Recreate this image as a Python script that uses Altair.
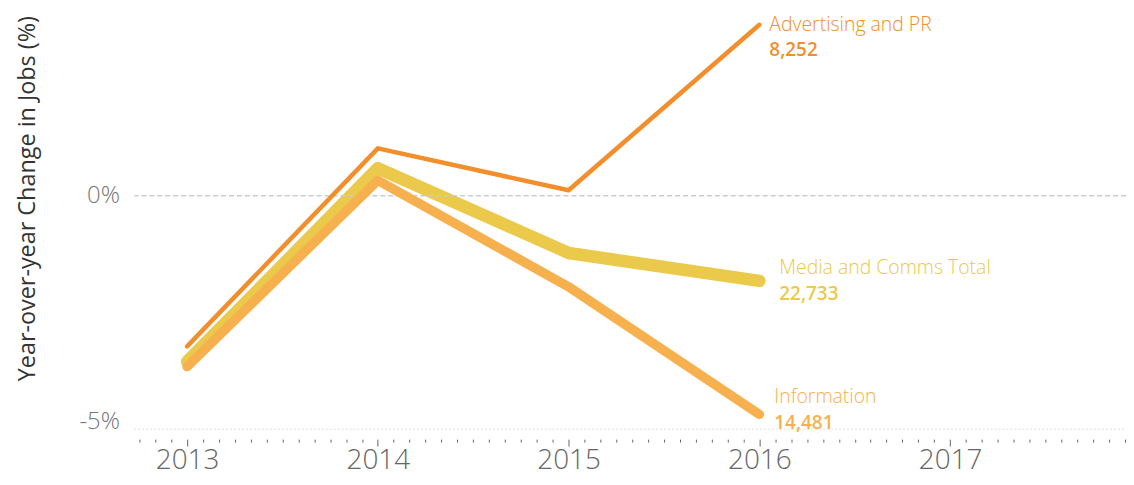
import altair as alt
import pandas as pd

# ---- data ----
YEARS = [2013, 2014, 2015, 2016]
SERIES = ["Media and Comms Total", "Information", "Advertising and PR"]
MEDIA = [-3.68, 0.61, -1.27, -1.89]
INFO = [-3.79, 0.34, -2.02, -4.85]
ADV = [-3.34, 1.05, 0.12, 3.79]
JOBS_2016 = ["22,733", "14,481", "8,252"]
COLORS = ["#EBC94A", "#F7B04E", "#F28E2B"]
WIDTHS = [12.5, 9.5, 4.5]
# label offsets (dx, name dy, value dy) relative to each line's last point, in px
LABEL_OFF = [(20, -13, 13), (15, -17, 9), (10, 0, 25)]
Y_TICKS = [-5, 0]
# monthly tick positions (axis decoration)
MONTH_TICKS = [round(2012 + m / 12, 4) for m in range(9, 72)]

W, H = 996, 422
FONT = "Open Sans"

rows = []
for s, vals, jobs in zip(SERIES, [MEDIA, INFO, ADV], JOBS_2016):
    for yr, v in zip(YEARS, vals):
        rows.append({"series": s, "year": yr, "value": v, "jobs": jobs})
df = pd.DataFrame(rows)

is_year = "abs(datum.value - round(datum.value)) < 0.01"

x_enc = alt.X(
    "year:Q",
    scale=alt.Scale(domain=[2012.724, 2017.922], nice=False, zero=False),
    axis=alt.Axis(
        values=MONTH_TICKS,
        domain=False,
        grid=False,
        offset=10,
        tickSize={"condition": {"test": is_year, "value": 7}, "value": 3},
        tickColor="#666",
        tickWidth=1,
        labelExpr=f"{is_year} ? format(datum.value, 'd') : ''",
        labelFont=FONT,
        labelFontSize=28,
        labelFontWeight=300,
        labelColor="#666",
        labelPadding=1,
        labelOverlap=False,
        labelFlush=False,
        title=None,
    ),
)
y_enc = alt.Y(
    "value:Q",
    scale=alt.Scale(domain=[-5.177, 4.139], nice=False, zero=False),
    axis=alt.Axis(
        values=Y_TICKS,
        labelExpr="datum.value + '%'",
        domain=False,
        ticks=False,
        grid=False,
        labelFont=FONT,
        labelFontSize=24,
        labelFontWeight=300,
        labelColor="#777",
        labelPadding=15,
        title="Year-over-year Change in Jobs (%)",
        titleFont=FONT,
        titleFontSize=23.5,
        titleFontWeight="normal",
        titleColor="#333",
        titlePadding=40,
        titleY=190,
    ),
)
color_enc = alt.Color(
    "series:N", scale=alt.Scale(domain=SERIES, range=COLORS), legend=None
)

base = alt.Chart(df)

zero_rule = alt.Chart(pd.DataFrame({"z": [0]})).mark_rule(
    color="#cccccc", strokeDash=[5, 3], strokeWidth=1.5
).encode(y=alt.Y("z:Q"))

bottom_rule = alt.Chart(pd.DataFrame({"z": [0]})).mark_rule(
    color="#dddddd", strokeDash=[2, 2], strokeWidth=1
).encode(y=alt.value(H), x=alt.value(0), x2=alt.value(W))

lines = []
for s, w in zip(SERIES, WIDTHS):
    lines.append(
        base.transform_filter(alt.datum.series == s)
        .mark_line(strokeWidth=w, strokeCap="round", strokeJoin="round")
        .encode(x=x_enc, y=y_enc, color=color_enc)
    )

texts = []
for s, (dx, dy_name, dy_val) in zip(SERIES, LABEL_OFF):
    last = base.transform_filter(
        (alt.datum.year == YEARS[-1]) & (alt.datum.series == s)
    )
    texts.append(
        last.mark_text(
            align="left", baseline="middle", dx=dx, dy=dy_name, font=FONT,
            fontSize=19.5, fontWeight=300
        ).encode(x=x_enc, y=y_enc, color=color_enc, text="series:N")
    )
    texts.append(
        last.mark_text(
            align="left", baseline="middle", dx=dx, dy=dy_val, font=FONT,
            fontSize=19, fontWeight=600
        ).encode(x=x_enc, y=y_enc, color=color_enc, text="jobs:N")
    )

chart = (
    alt.layer(lines[0], zero_rule, bottom_rule, *lines[1:], *texts)
    .properties(
        width=W,
        height=H,
        autosize=alt.AutoSizeParams(type="none"),
        padding={"left": 127, "top": 0, "right": 0, "bottom": 47},
    )
    .configure_view(stroke=None)
)

chart.save("out.html", embed_options={"renderer": "svg", "actions": False})
